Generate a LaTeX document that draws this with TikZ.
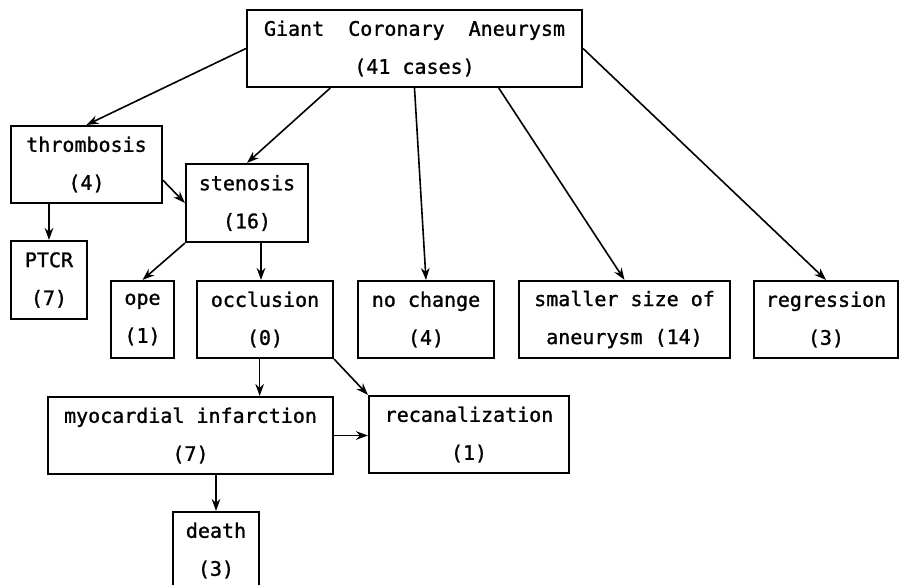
\documentclass[tikz,border=0pt]{standalone}
\usepackage{fontspec}
\newfontfamily\boxfont{DejaVu Sans Mono}[FakeBold=1.2]
\usetikzlibrary{arrows.meta,calc}

\tikzset{
  box/.style={draw, line width=1.6pt, inner sep=0pt, align=center,
    font=\boxfont\fontsize{15}{28.5}\selectfont},
  arr/.style={-{Stealth[length=9pt,width=6.5pt]}, line width=1.2pt}
}

\begin{document}
\begin{tikzpicture}[x=0.75pt, y=-0.75pt]
      \useasboundingbox (0, 0) rectangle (899, 585);

      \node [box, minimum width=251.25pt, minimum height=57.75pt] (gca) at (414.5, 48.5) {Giant\ \ Coronary\ \ Aneurysm\\(41 cases)};

      \node [box, minimum width=113.25pt, minimum height=57.75pt] (thromb) at (86.5, 164.5) {thrombosis\\(4)};
      \node [box, minimum width=91.5pt, minimum height=58.5pt] (sten) at (247, 203) {stenosis\\(16)};
      \node [box, minimum width=57pt, minimum height=58.5pt] (ptcr) at (49, 280) {PTCR\\(7)};

      \node [box, minimum width=47.25pt, minimum height=57.75pt] (ope) at (142.5, 319.5) {ope\\(1)};
      \node [box, minimum width=102pt, minimum height=57.75pt] (occl) at (265, 319.5) {occlusion\\(0)};
      \node [box, minimum width=102pt, minimum height=57.75pt] (nochg) at (426, 319.5) {no change\\(4)};
      \node [box, minimum width=158.25pt, minimum height=57.75pt] (smaller) at (624.5, 319.5) {smaller size of\\aneurysm (14)};
      \node [box, minimum width=108pt, minimum height=57.75pt] (regr) at (826, 319.5) {regression\\(3)};

      \node [box, minimum width=213.75pt, minimum height=57.75pt] (myo) at (190.5, 435.5) {myocardial infarction\\(7)};
      \node [box, minimum width=150pt, minimum height=57.75pt] (recan) at (469, 434.5) {recanalization\\(1)};
      \node [box, minimum width=64.5pt, minimum height=57.75pt] (death) at (216, 550.5) {death\\(3)};

      \coordinate (occlin) at ([xshift=-3pt]occl.north);
      \coordinate (occlout) at ([xshift=-4pt]occl.south);

      \draw [arr] (gca.west) -- (thromb.north);
      \draw [arr] ($(gca.south west)!0.25!(gca.south east)$) -- (sten.north);
      \draw [arr] (gca.south) -- (nochg.north);
      \draw [arr] ($(gca.south west)!0.75!(gca.south east)$) -- (smaller.north);
      \draw [arr] (gca.east) -- (regr.north);
      \draw [arr] ($(thromb.north east)!0.7!(thromb.south east)$) -- (sten.west);
      \draw [arr] (ptcr.north |- thromb.south) -- (ptcr.north);
      \draw [arr] (sten.south west) -- (ope.north);
      \draw [arr] (occlin |- sten.south) -- (occlin);
      \draw [arr] (occlout) -- (occlout |- myo.north);
      \draw [arr] (occl.south east) -- (recan.north west);
      \draw [arr] (myo.east) -- (myo.east -| recan.west);
      \draw [arr] (death.north |- myo.south) -- (death.north);
\end{tikzpicture}
\end{document}
